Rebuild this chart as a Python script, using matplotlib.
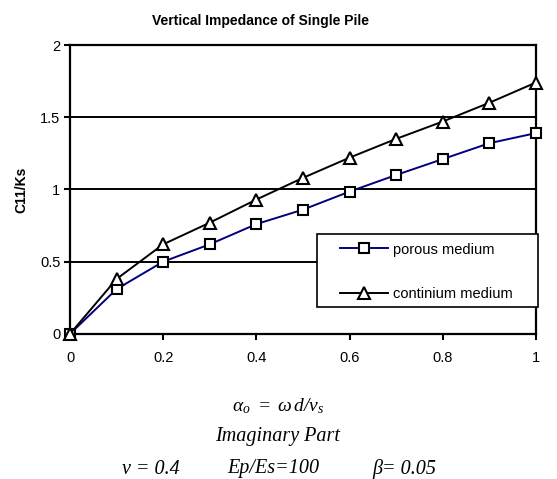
import matplotlib
matplotlib.use("Agg")
import matplotlib.pyplot as plt
from matplotlib.patches import Rectangle

# datos
a0 = [0, 0.1, 0.2, 0.3, 0.4, 0.5, 0.6, 0.7, 0.8, 0.9, 1.0]
poroso = [0, 0.31, 0.50, 0.62, 0.76, 0.86, 0.985, 1.10, 1.21, 1.32, 1.39]
continuo = [0, 0.38, 0.62, 0.77, 0.93, 1.08, 1.22, 1.35, 1.47, 1.60, 1.74]
xticks = [0, 0.2, 0.4, 0.6, 0.8, 1]
yticks = [0, 0.5, 1, 1.5, 2]
yticklabels = ["0", "0.5", "1", "1.5", "2"]
xticklabels = ["0", "0.2", "0.4", "0.6", "0.8", "1"]

plt.rcParams['font.family'] = ['Liberation Sans', 'DejaVu Sans']
plt.rcParams['mathtext.fontset'] = 'custom'
plt.rcParams['mathtext.it'] = 'Liberation Serif:italic'
plt.rcParams['mathtext.rm'] = 'Liberation Serif:italic'

fig = plt.figure(figsize=(5.57, 4.79), dpi=100)
ax = fig.add_axes([0.1257, 0.303, 0.8363, 0.603])

ax.plot(a0, poroso, color='#000080', lw=1.4, marker='s', markersize=7,
        markerfacecolor='white', markeredgecolor='black', markeredgewidth=1.5,
        label='porous medium', zorder=4, clip_on=False)
ax.plot(a0, continuo, color='black', lw=1.4, marker='^', markersize=8,
        markerfacecolor='white', markeredgecolor='black', markeredgewidth=1.5,
        label='continium medium', zorder=5, clip_on=False)

ax.set_xlim(0, 1)
ax.set_ylim(0, 2)
ax.set_xticks(xticks)
ax.set_xticklabels(xticklabels)
ax.set_yticks(yticks)
ax.set_yticklabels(yticklabels)
ax.tick_params(axis='both', direction='out', length=4, width=1.5, labelsize=10.5)
ax.tick_params(axis='y', pad=3)
ax.tick_params(axis='x', pad=8)

for y in yticks[1:-1]:
    ax.axhline(y, color='black', lw=1.4, zorder=1)
for s in ax.spines.values():
    s.set_linewidth(1.6)

ax.set_ylabel('C11/Ks', fontsize=10, fontweight='bold', labelpad=8)
fig.text(260 / 557, 1 - 21 / 479, 'Vertical Impedance of Single Pile', ha='center', va='center',
         fontsize=10, fontweight='bold')

# marco de la leyenda
ax.add_patch(Rectangle((0.53, 0.093), 0.474, 0.253, transform=ax.transAxes,
                       facecolor='white', edgecolor='black', lw=1.2, zorder=6, clip_on=False))
leg = ax.legend(loc='upper left', bbox_to_anchor=(0.579, 0.316), fontsize=10.5,
                frameon=False, borderpad=0, labelspacing=2.1, handlelength=3.3,
                handletextpad=0.35, borderaxespad=0)
leg.set_zorder(7)

serif = ['Liberation Serif', 'DejaVu Serif']
fig.text(0.499, 1 - 406 / 479, r'$\alpha_o\ =\ \omega\, d/\nu_s$', ha='center', va='center',
         fontsize=14)
fig.text(0.499, 1 - 436 / 479, 'Imaginary Part', ha='center', va='center',
         fontsize=14.5, style='italic', family=serif)
y3 = 1 - 469 / 479
fig.text(122 / 557, y3, 'ν = 0.4', ha='left', va='center', fontsize=14.5, style='italic', family=serif)
fig.text(227 / 557, y3, 'Ep/Es=100', ha='left', va='center', fontsize=14.5, style='italic', family=serif)
fig.text(372 / 557, y3, 'β= 0.05', ha='left', va='center', fontsize=14.5, style='italic', family=serif)

fig.savefig('out.png', dpi=100)
